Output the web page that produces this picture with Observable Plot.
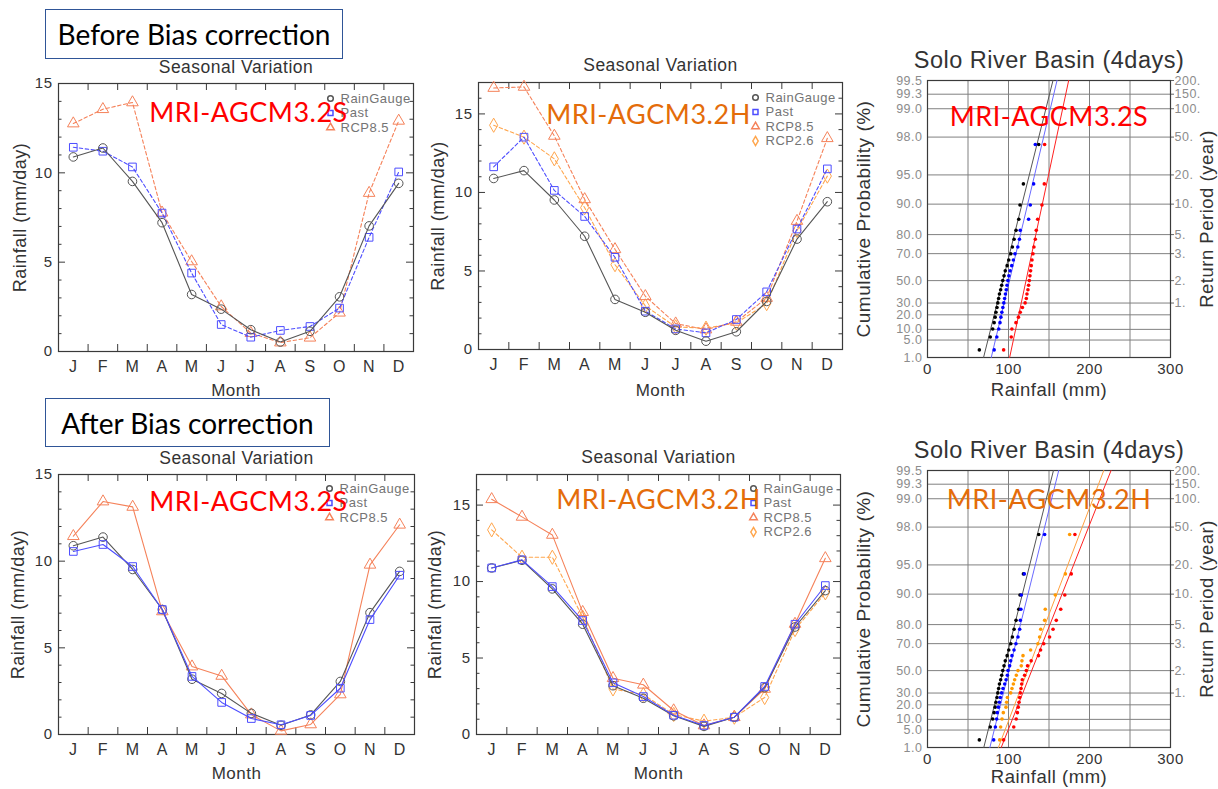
<!DOCTYPE html>
<html>
<head>
<meta charset="utf-8">
<script src="https://cdn.jsdelivr.net/npm/d3@7"></script>
<script src="https://cdn.jsdelivr.net/npm/@observablehq/plot@0.6"></script>
<style>
  body { margin: 0; background: #fff; }
  #page { position: relative; width: 1218px; height: 789px; overflow: hidden; background: #fff; }
  .panel { position: absolute; }
  .stage {
    position: absolute; box-sizing: border-box; border: 1.5px solid #2f5597; background: transparent;
    font-family: Lato, "Open Sans", sans-serif; font-size: 28px; color: #000;
    display: flex; align-items: center; justify-content: center; white-space: nowrap;
  }
</style>
</head>
<body>
<div id="page"></div>
<script>
// ---------- Seasonal variation (mm/day), one value per month ----------
const monthLabels = ["J", "F", "M", "A", "M", "J", "J", "A", "S", "O", "N", "D"];
const monthIndex = [1, 2, 3, 4, 5, 6, 7, 8, 9, 10, 11, 12];
const yMajorTicks = [0, 5, 10, 15];

// observed rain gauge climatology (shared by every panel)
const rainGauge = [10.89, 11.39, 9.52, 7.21, 3.19, 2.37, 1.22, 0.53, 1.13, 3.06, 7.03, 9.41];

// before bias correction
const pastRawS = [11.43, 11.21, 10.33, 7.75, 4.39, 1.51, 0.80, 1.18, 1.40, 2.43, 6.39, 10.05];
const rcp85RawS = [12.76, 13.56, 13.94, 7.77, 5.04, 2.52, 1.03, 0.50, 0.77, 2.17, 8.87, 12.91];
const pastRawH = [11.63, 13.52, 10.13, 8.47, 5.87, 2.44, 1.31, 1.06, 1.91, 3.67, 7.67, 11.50];
const rcp85RawH = [16.65, 16.72, 13.60, 9.56, 6.38, 3.39, 1.65, 1.27, 1.76, 3.28, 8.18, 13.45];
const rcp26RawH = [14.28, 13.52, 12.14, 9.03, 5.40, 2.78, 1.44, 1.36, 1.69, 2.92, 7.58, 11.04];

// after bias correction
const pastCorS = [10.56, 10.96, 9.69, 7.21, 3.35, 1.85, 0.92, 0.56, 1.10, 2.67, 6.63, 9.19];
const rcp85CorS = [11.44, 13.44, 13.13, 7.10, 3.92, 3.38, 1.15, 0.21, 0.58, 2.31, 9.79, 12.10];
const pastCorH = [10.89, 11.42, 9.67, 7.45, 3.38, 2.48, 1.26, 0.59, 1.13, 3.14, 7.21, 9.74];
const rcp85CorH = [15.38, 14.23, 13.05, 8.00, 3.68, 3.25, 1.57, 0.59, 1.13, 2.98, 7.23, 11.52];
const rcp26CorH = [13.38, 11.59, 11.59, 7.67, 2.98, 2.61, 1.31, 0.87, 1.13, 2.42, 6.86, 9.26];

// ---------- 4-day maximum rainfall, Gumbel probability paper ----------
const probTicks = [1, 5, 10, 20, 30, 50, 70, 80, 90, 95, 98, 99, 99.3, 99.5];
const probLabels = ["1.0", "5.0", "10.0", "20.0", "30.0", "50.0", "70.0", "80.0", "90.0", "95.0", "98.0", "99.0", "99.3", "99.5"];
const returnTickProb = [30, 50, 70, 80, 90, 95, 98, 99, 99.3, 99.5];
const returnLabels = ["1.", "2.", "3.", "5.", "10.", "20.", "50.", "100.", "150.", "200."];
const rainTicks = [0, 100, 200, 300];
const rainGrid = [50, 100, 150, 200, 250];

// plotting position (%) of each ranked annual maximum
const plotProb = [2.2, 6.2, 10.2, 14.2, 18.2, 22.1, 26.1, 30.1, 34.1, 38.1, 42.0, 46.0, 50.0,
                  54.0, 58.0, 61.9, 65.9, 69.9, 73.9, 77.9, 81.8, 85.8, 89.8, 93.8, 97.6];

// ranked 4-day rainfall (mm)
const gaugeMax = [64, 77.5, 80.5, 82.3, 83.5, 84.5, 85.8, 86.8, 87.8, 88.8, 90.3, 91.6, 92.9,
                  94.5, 96, 98.3, 100.3, 102.8, 104.8, 106.9, 109.3, 112.7, 114.2, 118.4, 137.3];
const pastMaxS = [82.3, 85.6, 88, 89.5, 90.6, 91.8, 93, 94.2, 95.2, 96.2, 97.2, 98.2, 99.2,
                  100.4, 102, 104, 106, 108, 111.5, 113.5, 114.5, 124.8, 126.9, 131, 133.1];
const rcp85MaxS = [94, 103.4, 104.2, 109.2, 112.3, 114.5, 117.2, 120.5, 122, 122.8, 124, 124.8, 125.7,
                   126.5, 127.3, 128.1, 129, 130.2, 131.4, 133.1, 134.3, 136, 141.3, 144.2, 144.6];
const pastMaxH = [81.7, 83.8, 85.4, 86.2, 87.5, 88.7, 89.9, 91.5, 93.2, 95.3, 97.0, 98.6, 99.4,
                  101.4, 102.7, 104.3, 106.8, 109.2, 111.7, 113.8, 114.6, 115.3, 115.8, 119.5, 144.6];
const rcp26MaxH = [89.1, 90.3, 92.0, 93.6, 96.9, 97.7, 98.6, 102.7, 104.3, 106, 107.6, 109.6, 111.7,
                   115.8, 116.6, 117.9, 127.3, 136.3, 138.4, 139.8, 144.6, 145.4, 157.8, 170.2, 175.5];
const rcp85MaxH = [94, 106.5, 109.5, 111, 112, 113, 113.8, 114.6, 115.5, 116.3, 117, 119.9, 122,
                   123.5, 128, 137, 139.6, 143.5, 150.7, 155, 159, 164.5, 169.5, 177.5, 182];

// fitted Gumbel lines: rainfall at the 1% and 99.5% levels
const fitProb = [1, 99.5];
const gaugeFitS = [69.2, 154.9];
const pastFitS = [78.7, 159.9];
const rcp85FitS = [101.4, 174.3];
const gaugeFitH = [69.5, 155.5];
const pastFitH = [77, 162];
const rcp26FitH = [87.5, 217.6];
const rcp85FitH = [91, 226.6];

// ---------- styles ----------
const GAUGE = {name: "RainGauge", color: "#555555", symbol: "circle"};
const PAST = {name: "Past", color: "#4d4dff", symbol: "square"};
const RCP85 = {name: "RCP8.5", color: "#f5825a", symbol: "triangle"};
const RCP26 = {name: "RCP2.6", color: "#ffa64d", symbol: "diamond"};
const RED = "#ff0000", ORANGE = "#e46c0a";
const ink = "#3a3a3a";
const textFont = "Liberation Sans, Arial, sans-serif";
const labelFont = "Lato, 'Open Sans', sans-serif";

const gumbel = p => -Math.log(-Math.log(p / 100));

function seasonal(o) {
  const fw = o.width - o.ml - o.mr, fh = o.height - o.mt - o.mb;
  const majors = yMajorTicks.filter(v => v <= o.yMax);
  const minors = d3.range(1, o.yMax + 1).filter(v => v % 5 !== 0);
  const bounds = d3.range(1.5, 12, 1);
  const marks = [
    Plot.tickY(minors, {insetRight: fw - 3.5, stroke: ink}),
    Plot.tickY(minors, {insetLeft: fw - 3.5, stroke: ink}),
    Plot.tickY(majors, {insetRight: fw - 7, stroke: ink}),
    Plot.tickY(majors, {insetLeft: fw - 7, stroke: ink}),
    Plot.tickX(bounds, {insetTop: fh - 7, stroke: ink}),
    Plot.tickX(bounds, {insetBottom: fh - 7, stroke: ink}),
    Plot.frame({stroke: ink, strokeWidth: 1.2}),
    Plot.axisY(majors, {tickSize: 0, tickPadding: 6, fontSize: 15, label: null}),
    Plot.axisX(monthIndex, {tickSize: 0, tickPadding: 9, fontSize: 16, label: null,
      tickFormat: i => monthLabels[i - 1]}),
    Plot.text(["Seasonal Variation"], {frameAnchor: "top", lineAnchor: "middle", dy: o.titleDy, fontSize: 17.5}),
    Plot.text(["Month"], {frameAnchor: "bottom", lineAnchor: "middle", dy: o.monthDy, fontSize: 17}),
    Plot.text(["Rainfall (mm/day)"], {frameAnchor: "left", textAnchor: "middle", lineAnchor: "middle",
      rotate: -90, dx: o.yLabelDx, fontSize: 18})
  ];
  for (const s of o.series) {
    const data = s.values.map((v, i) => ({month: monthIndex[i], rain: v}));
    marks.push(Plot.line(data, {x: "month", y: "rain", stroke: s.style.color, strokeWidth: 1.1,
      strokeDasharray: s.dashed ? "3.5,2.5" : null}));
    marks.push(Plot.dot(data, {x: "month", y: "rain", symbol: s.style.symbol, r: 4.3,
      stroke: s.style.color, fill: "none", strokeWidth: 1}));
  }
  o.legend.forEach((st, i) => {
    const dy = o.legendDy + i * 14.5;
    marks.push(Plot.dot([st.name], {frameAnchor: "top-right", dx: o.legendDx, dy, symbol: st.symbol,
      r: 2.8, stroke: st.color, fill: "none"}));
    marks.push(Plot.text([st.name], {frameAnchor: "top-right", dx: o.legendDx + 10, dy, textAnchor: "start",
      lineAnchor: "middle", fill: "#747474", fontSize: 13}));
  });
  marks.push(Plot.text([o.model], {frameAnchor: "top-left", dx: o.modelDx, dy: o.modelDy, textAnchor: "middle",
    lineAnchor: "middle", fill: o.modelColor, fontFamily: labelFont, fontSize: 27}));
  return Plot.plot({
    width: o.width, height: o.height,
    marginLeft: o.ml, marginRight: o.mr, marginTop: o.mt, marginBottom: o.mb,
    style: {fontFamily: textFont, color: "#333", background: "transparent", letterSpacing: "0.5px"},
    x: {domain: [0.5, 12.5], axis: null, label: null},
    y: {domain: [0, o.yMax], axis: null, label: null},
    marks
  });
}

function probability(o) {
  const W = 368, ml = 77, mr = 48, mt = 40;
  const mb = o.height - mt - 277;
  const fw = W - ml - mr;
  const grid = "#808080";
  const probAxis = probTicks.map((p, i) => ({p, label: probLabels[i]}));
  const returnAxis = returnTickProb.map((p, i) => ({p, label: returnLabels[i]}));
  const marks = [
    Plot.ruleX(rainGrid, {stroke: grid, strokeWidth: 1}),
    Plot.ruleY(probTicks, {y: p => gumbel(p), stroke: grid, strokeWidth: 1}),
    Plot.tickY(returnAxis, {y: d => gumbel(d.p), insetLeft: fw, insetRight: -4, stroke: "#666"}),
    Plot.frame({stroke: ink, strokeWidth: 1.2}),
    Plot.text(probAxis, {y: d => gumbel(d.p), text: "label", frameAnchor: "left", textAnchor: "end",
      lineAnchor: "middle", dx: -5, fill: "#8c8c8c", fontSize: 12.5}),
    Plot.text(returnAxis, {y: d => gumbel(d.p), text: "label", frameAnchor: "right", textAnchor: "start",
      lineAnchor: "middle", dx: 4, fill: "#8c8c8c", fontSize: 12.5}),
    Plot.axisX(rainTicks, {tickSize: 0, tickPadding: 6, fontSize: 15, label: null}),
    Plot.text(["Solo River Basin (4days)"], {frameAnchor: "top", lineAnchor: "middle", dy: -20, fontSize: 23.5}),
    Plot.text(["Rainfall (mm)"], {frameAnchor: "bottom", lineAnchor: "middle", dy: o.xLabelDy, fontSize: 18.5}),
    Plot.text(["Cumulative Probability (%)"], {frameAnchor: "left", textAnchor: "middle", lineAnchor: "middle",
      rotate: -90, dx: -64, fontSize: 19}),
    Plot.text(["Return Period (year)"], {frameAnchor: "right", textAnchor: "middle", lineAnchor: "middle",
      rotate: -90, dx: 37, fontSize: 18.5})
  ];
  for (const f of o.fits) {
    const data = f.values.map((r, i) => ({rain: r, p: fitProb[i]}));
    marks.push(Plot.line(data, {x: "rain", y: d => gumbel(d.p), stroke: f.color, strokeWidth: 1}));
  }
  for (const s of o.series) {
    const data = s.values.map((r, i) => ({rain: r, p: plotProb[i]}));
    marks.push(Plot.dot(data, {x: "rain", y: d => gumbel(d.p), r: 1.8, fill: s.color, stroke: "none"}));
  }
  marks.push(Plot.text([o.model], {frameAnchor: "top", dy: o.modelDy, lineAnchor: "middle",
    fill: o.modelColor, fontFamily: labelFont, fontSize: 27}));
  return Plot.plot({
    width: W, height: o.height, marginLeft: ml, marginRight: mr, marginTop: mt, marginBottom: mb,
    style: {fontFamily: textFont, color: "#333", background: "transparent", letterSpacing: "0.5px"},
    x: {domain: [0, 300], axis: null, label: null},
    y: {domain: [gumbel(1), gumbel(99.5)], axis: null, label: null},
    marks
  });
}

const page = document.getElementById("page");
function place(node, left, top) {
  const div = document.createElement("div");
  div.className = "panel";
  div.style.left = left + "px";
  div.style.top = top + "px";
  div.appendChild(node);
  page.appendChild(div);
}

// top row: before bias correction
place(seasonal({
  width: 420, height: 350, ml: 58, mr: 7, mt: 33, mb: 49, yMax: 15,
  titleDy: -16, monthDy: 39, yLabelDx: -38,
  series: [
    {values: rcp85RawS, style: RCP85, dashed: true},
    {values: pastRawS, style: PAST, dashed: true},
    {values: rainGauge, style: GAUGE, dashed: false}
  ],
  legend: [GAUGE, PAST, RCP85], legendDx: -83, legendDy: 15,
  model: "MRI-AGCM3.2S", modelColor: RED, modelDx: 190, modelDy: 30
}), 0, 50);

place(seasonal({
  width: 430, height: 350, ml: 58, mr: 8, mt: 32, mb: 51, yMax: 17,
  titleDy: -17, monthDy: 41, yLabelDx: -40,
  series: [
    {values: rcp26RawH, style: RCP26, dashed: true},
    {values: rcp85RawH, style: RCP85, dashed: true},
    {values: pastRawH, style: PAST, dashed: true},
    {values: rainGauge, style: GAUGE, dashed: false}
  ],
  legend: [GAUGE, PAST, RCP85, RCP26], legendDx: -87, legendDy: 15,
  model: "MRI-AGCM3.2H", modelColor: ORANGE, modelDx: 170, modelDy: 33
}), 420, 50);

place(probability({
  height: 360, modelDy: 37, xLabelDy: 33, model: "MRI-AGCM3.2S", modelColor: RED,
  fits: [
    {values: gaugeFitS, color: "#555555"},
    {values: pastFitS, color: "#6a6aff"},
    {values: rcp85FitS, color: "#ff2020"}
  ],
  series: [
    {values: gaugeMax, color: "#000000"},
    {values: pastMaxS, color: "#0000ff"},
    {values: rcp85MaxS, color: "#ff0000"}
  ]
}), 850, 40);

// bottom row: after bias correction
place(seasonal({
  width: 420, height: 349, ml: 58, mr: 6, mt: 34, mb: 55, yMax: 15,
  titleDy: -16, monthDy: 39, yLabelDx: -40,
  series: [
    {values: rcp85CorS, style: RCP85, dashed: false},
    {values: rainGauge, style: GAUGE, dashed: false},
    {values: pastCorS, style: PAST, dashed: false}
  ],
  legend: [GAUGE, PAST, RCP85], legendDx: -85, legendDy: 14,
  model: "MRI-AGCM3.2S", modelColor: RED, modelDx: 190, modelDy: 28
}), 0, 440);

place(seasonal({
  width: 430, height: 349, ml: 56, mr: 10, mt: 34, mb: 55, yMax: 17,
  titleDy: -17, monthDy: 39, yLabelDx: -41,
  series: [
    {values: rcp26CorH, style: RCP26, dashed: true},
    {values: rcp85CorH, style: RCP85, dashed: false},
    {values: rainGauge, style: GAUGE, dashed: false},
    {values: pastCorH, style: PAST, dashed: false}
  ],
  legend: [GAUGE, PAST, RCP85, RCP26], legendDx: -87, legendDy: 14,
  model: "MRI-AGCM3.2H", modelColor: ORANGE, modelDx: 182, modelDy: 26
}), 420, 440);

place(probability({
  height: 359, modelDy: 30, xLabelDy: 30, model: "MRI-AGCM3.2H", modelColor: ORANGE,
  fits: [
    {values: gaugeFitH, color: "#555555"},
    {values: pastFitH, color: "#6a6aff"},
    {values: rcp26FitH, color: "#ffa040"},
    {values: rcp85FitH, color: "#ff2020"}
  ],
  series: [
    {values: gaugeMax, color: "#000000"},
    {values: pastMaxH, color: "#0000ff"},
    {values: rcp26MaxH, color: "#ff9900"},
    {values: rcp85MaxH, color: "#ff0000"}
  ]
}), 850, 430);

// section headings
for (const s of [
  {text: "Before Bias correction", left: 45, top: 9, w: 298, h: 50},
  {text: "After Bias correction", left: 45, top: 398, w: 285, h: 49}
]) {
  const div = document.createElement("div");
  div.className = "stage";
  div.textContent = s.text;
  Object.assign(div.style, {left: s.left + "px", top: s.top + "px", width: s.w + "px", height: s.h + "px"});
  page.appendChild(div);
}
</script>
</body>
</html>
